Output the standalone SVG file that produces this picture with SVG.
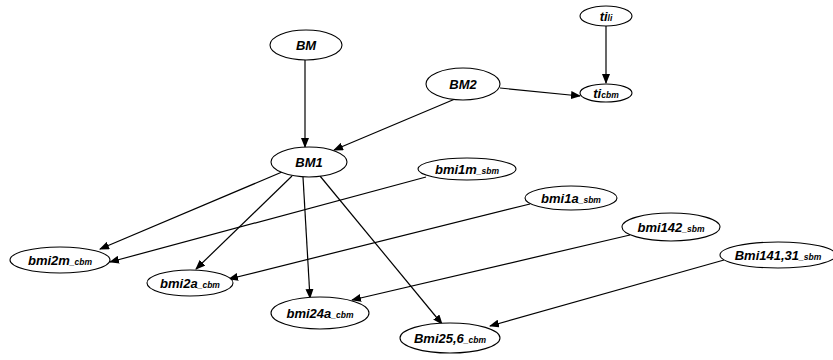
<svg xmlns="http://www.w3.org/2000/svg" width="833" height="360" viewBox="0 0 833 360">
<style>
ellipse{fill:#fff;stroke:#000;stroke-width:1.1}
text{font-family:"Liberation Sans",Arial,sans-serif;font-weight:bold;font-style:italic;font-size:13px;text-anchor:middle;fill:#000}
.s{font-size:8.5px}
.e{stroke:#000;stroke-width:1.2;fill:none;marker-end:url(#a)}
</style>
<defs>
<marker id="a" markerWidth="10" markerHeight="8" refX="9" refY="4" orient="auto" markerUnits="userSpaceOnUse">
<path d="M0,0L10,4L0,8z" fill="#000"/>
</marker>
</defs>
<g id="connectors">
<line class="e" x1="305" y1="60" x2="305" y2="147"/>
<line class="e" x1="606" y1="26" x2="606" y2="83"/>
<line class="e" x1="500" y1="88" x2="580" y2="96"/>
<line class="e" x1="455" y1="99" x2="334" y2="150"/>
<line class="e" x1="282" y1="172" x2="100" y2="249"/>
<line class="e" x1="426" y1="177" x2="110" y2="262"/>
<line class="e" x1="292" y1="176" x2="196" y2="269"/>
<line class="e" x1="530" y1="204" x2="229" y2="279"/>
<line class="e" x1="303" y1="177" x2="310" y2="298"/>
<line class="e" x1="630" y1="235" x2="352" y2="300"/>
<line class="e" x1="320" y1="176" x2="442" y2="324"/>
<line class="e" x1="724" y1="260" x2="490" y2="326"/>
</g>
<g id="BM"><ellipse cx="306" cy="45" rx="36" ry="15"/><text x="306" y="50">BM</text></g>
<g id="BM2"><ellipse cx="463" cy="84" rx="37" ry="16"/><text x="463" y="89">BM2</text></g>
<g id="ti_li"><ellipse cx="606" cy="16" rx="26" ry="10"/><text x="606" y="21">ti<tspan class="s">li</tspan></text></g>
<g id="ti_cbm"><ellipse cx="606" cy="93" rx="26" ry="9"/><text x="606" y="98">ti<tspan class="s">cbm</tspan></text></g>
<g id="BM1"><ellipse cx="309" cy="162" rx="38" ry="15"/><text x="309" y="167">BM1</text></g>
<g id="bmi1m_sbm"><ellipse cx="467" cy="169" rx="49" ry="11"/><text x="467" y="174">bmi1m<tspan class="s">_sbm</tspan></text></g>
<g id="bmi1a_sbm"><ellipse cx="571" cy="198" rx="46" ry="12"/><text x="571" y="203">bmi1a<tspan class="s">_sbm</tspan></text></g>
<g id="bmi142_sbm"><ellipse cx="671" cy="227" rx="49" ry="14"/><text x="671" y="232">bmi142<tspan class="s">_sbm</tspan></text></g>
<g id="Bmi141_31_sbm"><ellipse cx="778" cy="255" rx="58" ry="13"/><text x="778" y="260">Bmi141,31<tspan class="s">_sbm</tspan></text></g>
<g id="bmi2m_cbm"><ellipse cx="60" cy="260" rx="50" ry="13"/><text x="60" y="265">bmi2m<tspan class="s">_cbm</tspan></text></g>
<g id="bmi2a_cbm"><ellipse cx="190" cy="283" rx="43" ry="13"/><text x="190" y="288">bmi2a<tspan class="s">_cbm</tspan></text></g>
<g id="bmi24a_cbm"><ellipse cx="320" cy="313" rx="49" ry="16"/><text x="320" y="318">bmi24a<tspan class="s">_cbm</tspan></text></g>
<g id="Bmi25_6_cbm"><ellipse cx="450" cy="338" rx="50" ry="15"/><text x="450" y="343">Bmi25,6<tspan class="s">_cbm</tspan></text></g>
</svg>
